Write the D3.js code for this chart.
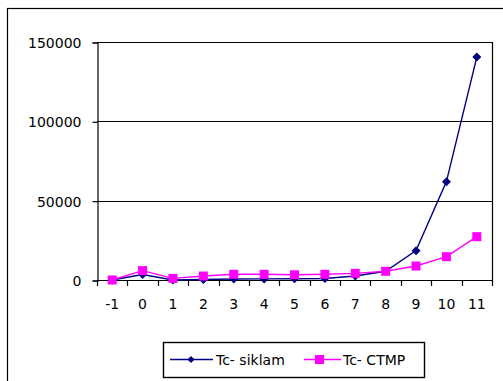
<!DOCTYPE html>
<html><head><meta charset="utf-8">
<script src="https://cdn.jsdelivr.net/npm/d3@7"></script>
<style>body{margin:0;background:#fff}svg{display:block}text{font-family:"DejaVu Sans",sans-serif;font-size:14px;fill:#000}</style>
</head><body>
<script>
const categories = ["-1","0","1","2","3","4","5","6","7","8","9","10","11"];
const siklam = [0, 3500, 0, 300, 600, 700, 800, 900, 2500, 5500, 18500, 62000, 140500];
const ctmp = [0, 5900, 1000, 2500, 3600, 3600, 3300, 3600, 4200, 5500, 8800, 14700, 27300];
const yTicks = [0, 50000, 100000, 150000];
const seriesNames = ["Tc- siklam", "Tc- CTMP"];

const W = 503, H = 381;
const FONT = '"DejaVu Sans",sans-serif';
const svg = d3.select("body").append("svg").attr("width", W).attr("height", H);
svg.append("rect").attr("x", 7.5).attr("y", 8.5).attr("width", 510).attr("height", 400)
  .attr("fill", "none").attr("stroke", "#000").attr("stroke-width", 1.2);

const L = 97, R = 492, T = 42, B = 280;
const x = d3.scaleBand().domain(categories).range([L, R]);
const y = d3.scaleLinear().domain([0, 150000]).range([B, T]);

// gridlines
svg.append("g").selectAll("line").data(yTicks.slice(1)).join("line")
  .attr("x1", L).attr("x2", R).attr("y1", d => Math.round(y(d)) + 0.5).attr("y2", d => Math.round(y(d)) + 0.5)
  .attr("stroke", "#000").attr("stroke-width", 1.2);
// right border
svg.append("line").attr("x1", R + 0.5).attr("x2", R + 0.5).attr("y1", T).attr("y2", B).attr("stroke", "#000").attr("stroke-width", 1.2);

const yAxis = d3.axisLeft(y).tickValues(yTicks).tickSize(5).tickPadding(11).tickFormat(d3.format("d"));
const gy = svg.append("g").attr("transform", `translate(${L + 0.5},0.5)`).call(yAxis);
gy.selectAll("text").style("font-size", "14px").style("font-family", FONT).attr("dy", "0.35em");
gy.selectAll("line, path").attr("stroke-width", 1.2);

const xAxis = d3.axisBottom(x).tickSize(0).tickPadding(19);
const gx = svg.append("g").attr("transform", `translate(0,${B + 0.5})`).call(xAxis);
gx.select(".domain").remove();
gx.selectAll("text").style("font-size", "14px").style("font-family", FONT);
svg.append("line").attr("x1", L).attr("x2", R + 1).attr("y1", B + 0.5).attr("y2", B + 0.5).attr("stroke", "#000").attr("stroke-width", 1.2);
// boundary tick marks
const bounds = categories.map(c => x(c)).concat([R]);
svg.append("g").selectAll("line").data(bounds).join("line")
  .attr("x1", d => Math.round(d) + 0.5).attr("x2", d => Math.round(d) + 0.5)
  .attr("y1", B).attr("y2", B + 6).attr("stroke", "#000").attr("stroke-width", 1.2);

const cx = c => x(c) + x.bandwidth() / 2;
const line = d3.line().x((d, i) => cx(categories[i])).y(d => y(d));

const blue = "#000080", pink = "#ff00ff";
svg.append("path").datum(siklam).attr("d", line).attr("fill", "none").attr("stroke", blue).attr("stroke-width", 1.4);
svg.append("path").datum(ctmp).attr("d", line).attr("fill", "none").attr("stroke", pink).attr("stroke-width", 1.4);

const dia = (s) => `M0,${-s}L${s},0L0,${s}L${-s},0Z`;
svg.append("g").selectAll("path").data(siklam).join("path")
  .attr("d", dia(4.5)).attr("fill", blue)
  .attr("transform", (d, i) => `translate(${cx(categories[i])},${y(d)})`);
svg.append("g").selectAll("rect").data(ctmp).join("rect")
  .attr("x", (d, i) => cx(categories[i]) - 4.5).attr("y", d => y(d) - 4.5)
  .attr("width", 9).attr("height", 9).attr("fill", pink);

// legend
const lg = svg.append("g");
lg.append("rect").attr("x", 163.5).attr("y", 342.5).attr("width", 261).attr("height", 35)
  .attr("fill", "#fff").attr("stroke", "#000").attr("stroke-width", 1.4);
const ly = 359.5;
lg.append("line").attr("x1", 170).attr("x2", 213).attr("y1", ly).attr("y2", ly).attr("stroke", blue).attr("stroke-width", 1.4);
lg.append("path").attr("d", dia(3.5)).attr("fill", blue).attr("transform", `translate(191,${ly})`);
lg.append("text").attr("x", 216).attr("y", ly + 5).text(seriesNames[0]);
lg.append("line").attr("x1", 304).attr("x2", 341).attr("y1", ly).attr("y2", ly).attr("stroke", pink).attr("stroke-width", 1.4);
lg.append("rect").attr("x", 315).attr("y", ly - 4.5).attr("width", 9).attr("height", 9).attr("fill", pink);
lg.append("text").attr("x", 343).attr("y", ly + 5).text(seriesNames[1]);
</script>
</body></html>
